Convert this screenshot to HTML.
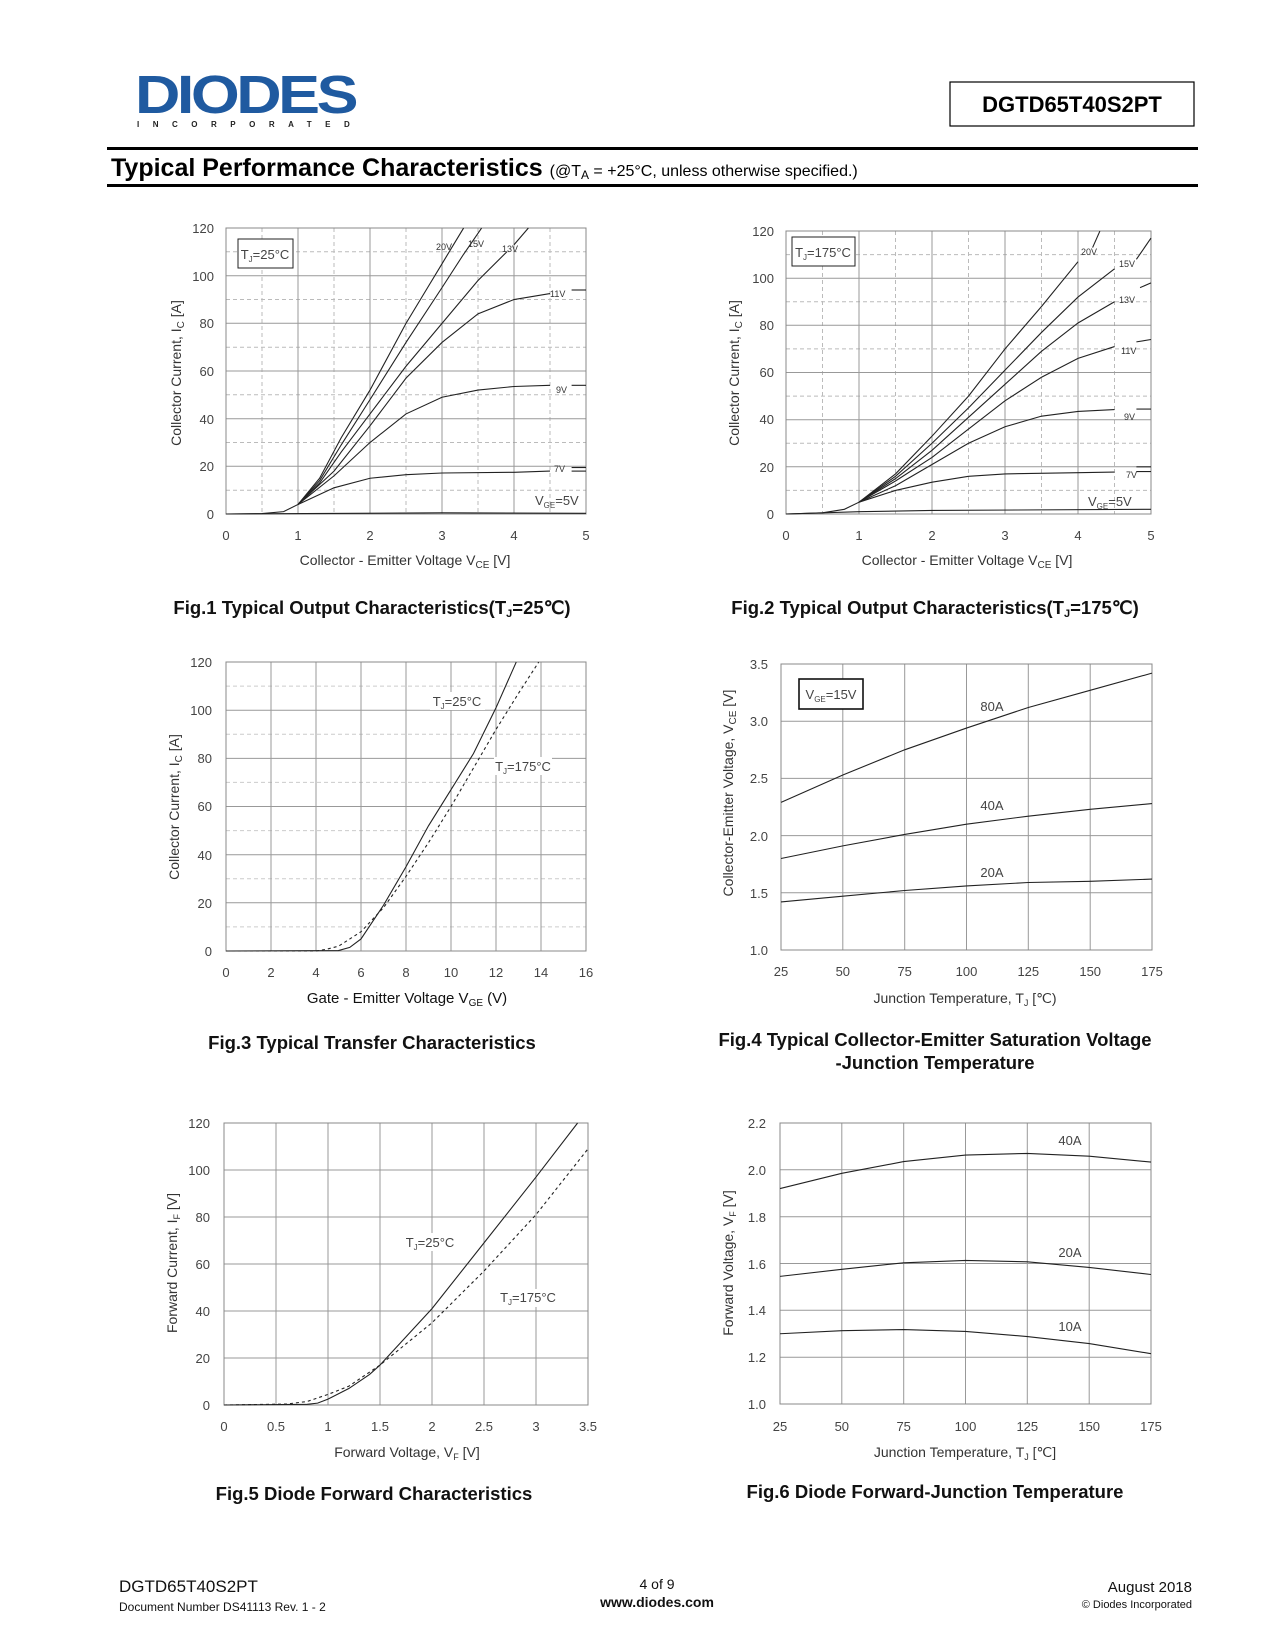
<!DOCTYPE html>
<html><head><meta charset="utf-8"><style>
body{margin:0;background:#fff}
svg{display:block}
.t{font-family:"Liberation Sans",sans-serif;fill:#444;font-size:13px}
.ax{font-family:"Liberation Sans",sans-serif;fill:#333;font-size:14px}
.cap{font-family:"Liberation Sans",sans-serif;font-weight:bold;font-size:18.5px;fill:#111}
.g{stroke:#999;stroke-width:1;fill:none}
.gd{stroke:#bbb;stroke-width:1;stroke-dasharray:4 3;fill:none}
.c{fill:none;stroke:#222;stroke-width:1.1;vector-effect:non-scaling-stroke}
.d{fill:none;stroke:#222;stroke-width:1.1;stroke-dasharray:3 3;vector-effect:non-scaling-stroke}
.s{font-family:"Liberation Sans",sans-serif;font-size:9px;fill:#333}
</style></head><body>
<svg width="1275" height="1650" viewBox="0 0 1275 1650" xmlns="http://www.w3.org/2000/svg">
<!-- header -->
<text x="135" y="113" font-family="Liberation Sans,sans-serif" font-weight="900" font-size="54" fill="#1f5aa0" letter-spacing="-3" textLength="220" lengthAdjust="spacingAndGlyphs">DIODES</text>
<text x="137" y="127" font-family="Liberation Sans,sans-serif" font-weight="bold" font-size="8" fill="#222" letter-spacing="13.5">INCORPORATED</text>
<rect x="950" y="82" width="244" height="44" fill="none" stroke="#000" stroke-width="1.2"/>
<text x="1072" y="112" text-anchor="middle" font-family="Liberation Sans,sans-serif" font-weight="bold" font-size="22" fill="#000">DGTD65T40S2PT</text>
<rect x="107" y="147" width="1091" height="3" fill="#000"/>
<rect x="107" y="184" width="1091" height="3" fill="#000"/>
<text x="111" y="176" font-family="Liberation Sans,sans-serif" font-weight="bold" font-size="25" fill="#000">Typical Performance Characteristics <tspan font-weight="normal" font-size="16">(@T<tspan font-size="12" dy="3">A</tspan><tspan dy="-3"> = +25°C, unless otherwise specified.)</tspan></tspan></text>

<!-- ===== FIG 1 ===== -->
<g>
<path class="gd" d="M262,228V514M334,228V514M406,228V514M478,228V514M550,228V514M226,251.8H586M226,299.5H586M226,347.2H586M226,394.8H586M226,442.5H586M226,490.2H586"/>
<path class="g" d="M298,228V514M370,228V514M442,228V514M514,228V514M226,275.7H586M226,323.3H586M226,371H586M226,418.7H586M226,466.3H586"/>
<rect x="226" y="228" width="360" height="286" fill="none" stroke="#888"/>
<g transform="translate(226,514) scale(72,-2.383)">
<polyline class="c" points="0,0 0.5,0.2 0.8,1 1,4 1.3,15 1.6,32 2,52 2.5,80 2.8,95 3,105 3.2,115 3.3,120"/>
<polyline class="c" points="1,4 1.3,14 1.6,29 2,48 2.5,72 3,95 3.3,109 3.55,120"/>
<polyline class="c" points="1,4 1.3,13 1.6,26 2,42 2.5,62 3,80 3.5,98 3.9,110"/>
<polyline class="c" points="4,113 4.2,120"/>
<polyline class="c" points="1,4 1.5,18 2,37 2.5,57 3,72 3.5,84 4,90 4.5,92.5"/>
<polyline class="c" points="4.8,94 5,94"/>
<polyline class="c" points="1,4 1.5,16 2,30 2.5,42 3,49 3.5,52 4,53.5 4.5,54"/>
<polyline class="c" points="4.8,54 5,54"/>
<polyline class="c" points="1,4 1.5,11 2,15 2.5,16.5 3,17.2 4,17.5 4.5,18"/>
<polyline class="c" points="4.8,19.5 5,19.5"/><polyline class="c" points="4.8,18 5,18"/>
<polyline class="c" points="0,0 3,0.5 5,0.3"/>
</g>
<rect x="238" y="239" width="55" height="29" fill="#fff" stroke="#222"/>
<text x="265" y="259" text-anchor="middle" class="t" fill="#222">T<tspan font-size="8" dy="3">J</tspan><tspan dy="-3">=25°C</tspan></text>
<text x="436" y="250" class="s">20V</text><text x="468" y="247" class="s">15V</text><text x="502" y="252" class="s">13V</text>
<text x="550" y="297" class="s">11V</text><text x="556" y="393" class="s">9V</text><text x="554" y="472" class="s">7V</text>
<text x="535" y="505" class="t" font-size="12">V<tspan font-size="8" dy="3">GE</tspan><tspan dy="-3">=5V</tspan></text>
<g class="t" text-anchor="middle"><text x="226" y="540">0</text><text x="298" y="540">1</text><text x="370" y="540">2</text><text x="442" y="540">3</text><text x="514" y="540">4</text><text x="586" y="540">5</text></g>
<g class="t" text-anchor="end"><text x="214" y="233">120</text><text x="214" y="281">100</text><text x="214" y="328">80</text><text x="214" y="376">60</text><text x="214" y="424">40</text><text x="214" y="471">20</text><text x="214" y="519">0</text></g>
<text class="ax" x="405" y="565" text-anchor="middle">Collector - Emitter Voltage V<tspan font-size="10" dy="3">CE</tspan><tspan dy="-3"> [V]</tspan></text>
<text class="ax" transform="translate(181,373) rotate(-90)" text-anchor="middle">Collector Current, I<tspan font-size="10" dy="3">C</tspan><tspan dy="-3"> [A]</tspan></text>
<text class="cap" x="372" y="614" text-anchor="middle">Fig.1 Typical Output Characteristics(T<tspan font-size="11" dy="3">J</tspan><tspan dy="-3">=25℃)</tspan></text>
</g>

<!-- ===== FIG 2 ===== -->
<g>
<path class="gd" d="M822.5,231V514M895.5,231V514M968.5,231V514M1041.5,231V514M1114.5,231V514M786,254.6H1151M786,301.7H1151M786,348.9H1151M786,396.1H1151M786,443.3H1151M786,490.4H1151"/>
<path class="g" d="M859,231V514M932,231V514M1005,231V514M1078,231V514M786,278.2H1151M786,325.3H1151M786,372.5H1151M786,419.7H1151M786,466.8H1151"/>
<rect x="786" y="231" width="365" height="283" fill="none" stroke="#888"/>
<g transform="translate(786,514) scale(73,-2.358)">
<polyline class="c" points="0,0 0.5,0.5 0.8,2 1,5 1.5,17 2,33 2.5,50 3,70 3.5,88 4,107"/>
<polyline class="c" points="4.2,113 4.3,120"/>
<polyline class="c" points="1,5 1.5,16 2,30 2.5,45 3,61 3.5,77 4,92 4.5,104"/>
<polyline class="c" points="4.8,108 5,117"/>
<polyline class="c" points="1,5 1.5,15 2,27 2.5,41 3,55 3.5,69 4,81 4.5,90"/>
<polyline class="c" points="4.85,96 5,98"/>
<polyline class="c" points="1,5 1.5,14 2,24 2.5,36 3,48 3.5,58 4,66 4.5,71"/>
<polyline class="c" points="4.8,73 5,74"/>
<polyline class="c" points="1,5 1.5,12 2,21 2.5,30 3,37 3.5,41.5 4,43.5 4.5,44.3"/>
<polyline class="c" points="4.8,44.5 5,44.5"/>
<polyline class="c" points="1,5 1.5,10 2,13.5 2.5,16 3,17 4,17.5 4.5,17.8"/>
<polyline class="c" points="4.8,18 5,18"/><polyline class="c" points="4.8,20 5,20"/>
<polyline class="c" points="0,0 1,1 2,1.5 5,2"/>
</g>
<rect x="792" y="237" width="63" height="29" fill="#fff" stroke="#222"/>
<text x="823" y="257" text-anchor="middle" class="t" fill="#222">T<tspan font-size="8" dy="3">J</tspan><tspan dy="-3">=175°C</tspan></text>
<text x="1081" y="255" class="s">20V</text><text x="1119" y="267" class="s">15V</text><text x="1119" y="303" class="s">13V</text>
<text x="1121" y="354" class="s">11V</text><text x="1124" y="420" class="s">9V</text><text x="1126" y="478" class="s">7V</text>
<text x="1088" y="506" class="t" font-size="12">V<tspan font-size="8" dy="3">GE</tspan><tspan dy="-3">=5V</tspan></text>
<g class="t" text-anchor="middle"><text x="786" y="540">0</text><text x="859" y="540">1</text><text x="932" y="540">2</text><text x="1005" y="540">3</text><text x="1078" y="540">4</text><text x="1151" y="540">5</text></g>
<g class="t" text-anchor="end"><text x="774" y="236">120</text><text x="774" y="283">100</text><text x="774" y="330">80</text><text x="774" y="377">60</text><text x="774" y="424">40</text><text x="774" y="472">20</text><text x="774" y="519">0</text></g>
<text class="ax" x="967" y="565" text-anchor="middle">Collector - Emitter Voltage V<tspan font-size="10" dy="3">CE</tspan><tspan dy="-3"> [V]</tspan></text>
<text class="ax" transform="translate(739,373) rotate(-90)" text-anchor="middle">Collector Current, I<tspan font-size="10" dy="3">C</tspan><tspan dy="-3"> [A]</tspan></text>
<text class="cap" x="935" y="614" text-anchor="middle">Fig.2 Typical Output Characteristics(T<tspan font-size="11" dy="3">J</tspan><tspan dy="-3">=175℃)</tspan></text>
</g>

<!-- ===== FIG 3 ===== -->
<g>
<path class="gd" stroke-dasharray="none" style="stroke:#ccc" d="M226,686.1H586M226,734.3H586M226,782.4H586M226,830.6H586M226,878.8H586M226,926.9H586"/>
<path class="g" d="M271,662V951M316,662V951M361,662V951M406,662V951M451,662V951M496,662V951M541,662V951M226,710.2H586M226,758.4H586M226,806.5H586M226,854.7H586M226,902.8H586"/>
<rect x="226" y="662" width="360" height="289" fill="none" stroke="#888"/>
<g transform="translate(226,951) scale(22.5,-2.408)">
<polyline class="c" points="0,0 5,0.2 5.5,1.5 6,5 7,19 8,35 9,52 10,67 11,82 12,101 12.9,120"/>
<polyline class="d" points="0,0 4,0 4.5,0.8 5,2 6,8 7,18 8,31 9,45 10,60 11,76 12,92 13,107 13.9,120"/>
</g>
<rect x="430" y="692" width="55" height="18" fill="#fff"/>
<text x="457" y="706" text-anchor="middle" class="t">T<tspan font-size="8" dy="3">J</tspan><tspan dy="-3">=25°C</tspan></text>
<rect x="494" y="757" width="58" height="18" fill="#fff"/>
<text x="523" y="771" text-anchor="middle" class="t">T<tspan font-size="8" dy="3">J</tspan><tspan dy="-3">=175°C</tspan></text>
<g class="t" text-anchor="middle"><text x="226" y="977">0</text><text x="271" y="977">2</text><text x="316" y="977">4</text><text x="361" y="977">6</text><text x="406" y="977">8</text><text x="451" y="977">10</text><text x="496" y="977">12</text><text x="541" y="977">14</text><text x="586" y="977">16</text></g>
<g class="t" text-anchor="end"><text x="212" y="667">120</text><text x="212" y="715">100</text><text x="212" y="763">80</text><text x="212" y="811">60</text><text x="212" y="860">40</text><text x="212" y="908">20</text><text x="212" y="956">0</text></g>
<text x="407" y="1003" text-anchor="middle" font-family="Liberation Sans,sans-serif" font-size="15" fill="#111">Gate - Emitter Voltage V<tspan font-size="10" dy="3">GE</tspan><tspan dy="-3"> (V)</tspan></text>
<text class="ax" transform="translate(179,807) rotate(-90)" text-anchor="middle">Collector Current, I<tspan font-size="10" dy="3">C</tspan><tspan dy="-3"> [A]</tspan></text>
<text class="cap" x="372" y="1049" text-anchor="middle">Fig.3 Typical Transfer Characteristics</text>
</g>

<!-- ===== FIG 4 ===== -->
<g>
<path class="g" d="M842.8,664V950M904.7,664V950M966.5,664V950M1028.3,664V950M1090.2,664V950M781,721.2H1152M781,778.4H1152M781,835.6H1152M781,892.8H1152"/>
<rect x="781" y="664" width="371" height="286" fill="none" stroke="#888"/>
<g transform="translate(719.2,1064.4) scale(2.473,-114.4)">
<polyline class="c" points="25,2.29 50,2.53 75,2.75 100,2.94 125,3.12 150,3.27 175,3.42"/>
<polyline class="c" points="25,1.8 50,1.91 75,2.01 100,2.1 125,2.17 150,2.23 175,2.28"/>
<polyline class="c" points="25,1.42 50,1.47 75,1.52 100,1.56 125,1.59 150,1.6 175,1.62"/>
</g>
<rect x="799" y="679" width="64" height="30" fill="#fff" stroke="#111" stroke-width="1.6"/>
<text x="831" y="699" text-anchor="middle" class="t" fill="#222">V<tspan font-size="8" dy="3">GE</tspan><tspan dy="-3">=15V</tspan></text>
<text x="992" y="711" text-anchor="middle" class="t">80A</text>
<text x="992" y="810" text-anchor="middle" class="t">40A</text>
<text x="992" y="877" text-anchor="middle" class="t">20A</text>
<g class="t" text-anchor="middle"><text x="781" y="976">25</text><text x="842.8" y="976">50</text><text x="904.7" y="976">75</text><text x="966.5" y="976">100</text><text x="1028.3" y="976">125</text><text x="1090.2" y="976">150</text><text x="1152" y="976">175</text></g>
<g class="t" text-anchor="end"><text x="768" y="669">3.5</text><text x="768" y="726">3.0</text><text x="768" y="783">2.5</text><text x="768" y="841">2.0</text><text x="768" y="898">1.5</text><text x="768" y="955">1.0</text></g>
<text class="ax" x="965" y="1003" text-anchor="middle">Junction Temperature, T<tspan font-size="9" dy="3">J</tspan><tspan dy="-3"> [℃)</tspan></text>
<text class="ax" transform="translate(733,793) rotate(-90)" text-anchor="middle">Collector-Emitter Voltage, V<tspan font-size="10" dy="3">CE</tspan><tspan dy="-3"> [V]</tspan></text>
<text class="cap" x="935" y="1046" text-anchor="middle">Fig.4 Typical Collector-Emitter Saturation Voltage</text>
<text class="cap" x="935" y="1069" text-anchor="middle">-Junction Temperature</text>
</g>

<!-- ===== FIG 5 ===== -->
<g>
<path class="g" d="M276,1123V1405M328,1123V1405M380,1123V1405M432,1123V1405M484,1123V1405M536,1123V1405M224,1170H588M224,1217H588M224,1264H588M224,1311H588M224,1358H588"/>
<rect x="224" y="1123" width="364" height="282" fill="none" stroke="#888"/>
<g transform="translate(224,1405) scale(104,-2.35)">
<polyline class="c" points="0,0 0.8,0.3 0.9,0.8 1,2.5 1.2,7 1.4,13 1.5,17 2,41 2.5,69 3,97 3.4,120"/>
<polyline class="d" points="0,0 0.6,0.4 0.8,1.5 1,4.5 1.2,8 1.5,17 2,35 2.5,57 3,81 3.5,109"/>
</g>
<rect x="402" y="1233" width="56" height="18" fill="#fff"/>
<text x="430" y="1247" text-anchor="middle" class="t">T<tspan font-size="8" dy="3">J</tspan><tspan dy="-3">=25°C</tspan></text>
<rect x="498" y="1289" width="60" height="18" fill="#fff"/>
<text x="528" y="1302" text-anchor="middle" class="t">T<tspan font-size="8" dy="3">J</tspan><tspan dy="-3">=175°C</tspan></text>
<g class="t" text-anchor="middle"><text x="224" y="1431">0</text><text x="276" y="1431">0.5</text><text x="328" y="1431">1</text><text x="380" y="1431">1.5</text><text x="432" y="1431">2</text><text x="484" y="1431">2.5</text><text x="536" y="1431">3</text><text x="588" y="1431">3.5</text></g>
<g class="t" text-anchor="end"><text x="210" y="1128">120</text><text x="210" y="1175">100</text><text x="210" y="1222">80</text><text x="210" y="1269">60</text><text x="210" y="1316">40</text><text x="210" y="1363">20</text><text x="210" y="1410">0</text></g>
<text class="ax" x="407" y="1457" text-anchor="middle">Forward Voltage, V<tspan font-size="9" dy="3">F</tspan><tspan dy="-3"> [V]</tspan></text>
<text class="ax" transform="translate(177,1263) rotate(-90)" text-anchor="middle">Forward Current, I<tspan font-size="9" dy="3">F</tspan><tspan dy="-3"> [V]</tspan></text>
<text class="cap" x="374" y="1500" text-anchor="middle">Fig.5 Diode Forward Characteristics</text>
</g>

<!-- ===== FIG 6 ===== -->
<g>
<path class="g" d="M841.8,1123V1404M903.7,1123V1404M965.5,1123V1404M1027.3,1123V1404M1089.2,1123V1404M780,1169.8H1151M780,1216.7H1151M780,1263.5H1151M780,1310.3H1151M780,1357.2H1151"/>
<rect x="780" y="1123" width="371" height="281" fill="none" stroke="#888"/>
<g transform="translate(718.2,1638.2) scale(2.473,-234.2)">
<polyline class="c" points="25,1.92 50,1.985 75,2.035 100,2.063 125,2.07 150,2.058 175,2.033"/>
<polyline class="c" points="25,1.545 50,1.575 75,1.603 100,1.613 125,1.607 150,1.583 175,1.553"/>
<polyline class="c" points="25,1.3 50,1.313 75,1.318 100,1.31 125,1.288 150,1.258 175,1.215"/>
</g>
<text x="1070" y="1145" text-anchor="middle" class="t">40A</text>
<text x="1070" y="1257" text-anchor="middle" class="t">20A</text>
<text x="1070" y="1331" text-anchor="middle" class="t">10A</text>
<g class="t" text-anchor="middle"><text x="780" y="1431">25</text><text x="841.8" y="1431">50</text><text x="903.7" y="1431">75</text><text x="965.5" y="1431">100</text><text x="1027.3" y="1431">125</text><text x="1089.2" y="1431">150</text><text x="1151" y="1431">175</text></g>
<g class="t" text-anchor="end"><text x="766" y="1128">2.2</text><text x="766" y="1175">2.0</text><text x="766" y="1222">1.8</text><text x="766" y="1269">1.6</text><text x="766" y="1315">1.4</text><text x="766" y="1362">1.2</text><text x="766" y="1409">1.0</text></g>
<text class="ax" x="965" y="1457" text-anchor="middle">Junction Temperature, T<tspan font-size="9" dy="3">J</tspan><tspan dy="-3"> [℃]</tspan></text>
<text class="ax" transform="translate(733,1263) rotate(-90)" text-anchor="middle">Forward Voltage, V<tspan font-size="9" dy="3">F</tspan><tspan dy="-3"> [V]</tspan></text>
<text class="cap" x="935" y="1498" text-anchor="middle">Fig.6 Diode Forward-Junction Temperature</text>
</g>

<!-- footer -->
<text x="119" y="1592" font-family="Liberation Sans,sans-serif" font-size="17" fill="#111">DGTD65T40S2PT</text>
<text x="119" y="1611" font-family="Liberation Sans,sans-serif" font-size="12" fill="#111">Document Number DS41113  Rev. 1 - 2</text>
<text x="657" y="1589" text-anchor="middle" font-family="Liberation Sans,sans-serif" font-size="14" fill="#111">4 of 9</text>
<text x="657" y="1607" text-anchor="middle" font-family="Liberation Sans,sans-serif" font-weight="bold" font-size="14" fill="#111">www.diodes.com</text>
<text x="1192" y="1592" text-anchor="end" font-family="Liberation Sans,sans-serif" font-size="15" fill="#111">August 2018</text>
<text x="1192" y="1608" text-anchor="end" font-family="Liberation Sans,sans-serif" font-size="11" fill="#111">© Diodes Incorporated</text>
</svg>
</body></html>
